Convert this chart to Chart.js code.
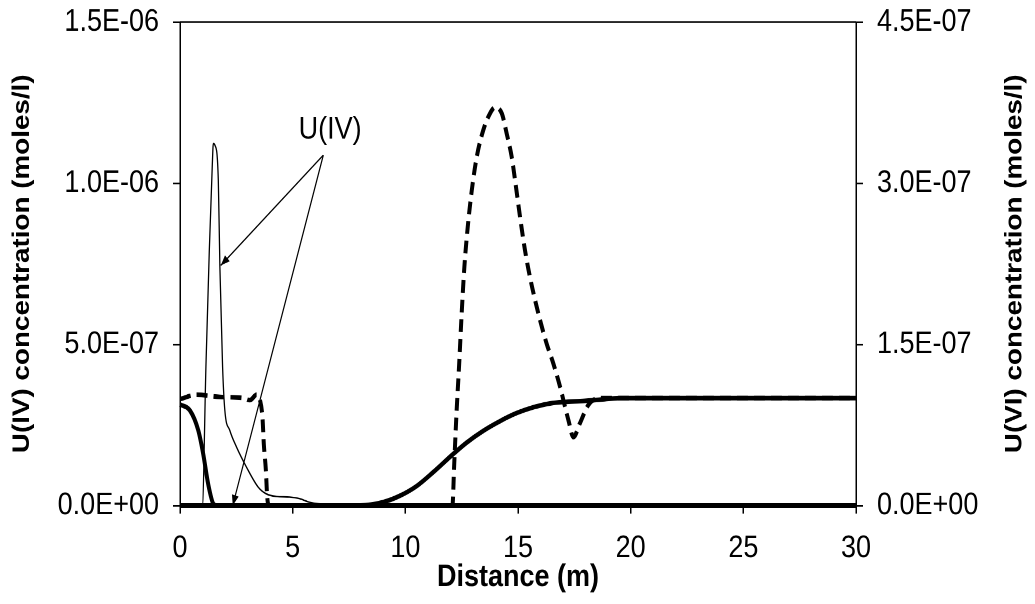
<!DOCTYPE html>
<html>
<head>
<meta charset="utf-8">
<script src="https://cdn.jsdelivr.net/npm/chart.js@4.4.0/dist/chart.umd.min.js"></script>
<style>
  html { overflow: hidden; }
  body { margin: 0; padding: 0; background: #fff; height: 604px; }
  #wrap { width: 1035px; height: 521px; transform: scaleY(1.1593); transform-origin: 0 0; }
</style>
</head>
<body>
<div id="wrap"><canvas id="myChart" width="1035" height="521"></canvas></div>
<script>
// axis ticks
const xTicks = [0, 5, 10, 15, 20, 25, 30];
const leftTicks = [0, 5e-7, 1e-6, 1.5e-6];
const leftTickLabels = ['0.0E+00', '5.0E-07', '1.0E-06', '1.5E-06'];
const rightTicks = [0, 1.5e-7, 3e-7, 4.5e-7];
const rightTickLabels = ['0.0E+00', '1.5E-07', '3.0E-07', '4.5E-07'];

// U(IV), thin line (left axis)
const distU4a = [0, 0.99, 1.15, 1.30, 1.43, 1.48, 1.55, 1.70, 1.77, 1.89, 1.99, 2.21, 2.51, 2.95, 3.47, 3.83, 4.28, 4.87, 5.31, 5.75, 6.64, 7.8, 9, 30];
const concU4a = [0, 0, 0.43e-6, 0.79e-6, 1.05e-6, 1.123e-6, 1.118e-6, 1.01e-6, 0.74e-6, 0.43e-6, 0.295e-6, 0.233e-6, 0.181e-6, 0.119e-6, 0.057e-6, 0.036e-6, 0.028e-6, 0.026e-6, 0.021e-6, 0.010e-6, 0.003e-6, 0.002e-6, 0, 0];

// U(IV), thick line lying on zero (left axis)
const distU4b = [0, 30];
const concU4b = [0, 0];

// U(VI), thick solid (right axis)
const distU6a = [0, 0.44, 0.81, 1.03, 1.25, 1.48, 1.62, 8.0, 9.0, 9.76, 10.5, 11.24, 12.13, 12.72, 13.46, 14.2, 14.94, 15.53, 16.42, 17.16, 18.05, 18.64, 19.5, 30];
const concU6a = [9.4e-8, 8.85e-8, 7.0e-8, 4.8e-8, 2.0e-8, 1.5e-9, 0, 0, 3e-9, 9e-9, 1.8e-8, 3.1e-8, 4.8e-8, 5.85e-8, 6.95e-8, 7.85e-8, 8.6e-8, 9.05e-8, 9.5e-8, 9.65e-8, 9.75e-8, 9.85e-8, 1.0e-7, 1.0e-7];

// U(VI), dashed (right axis)
const distU6b = [0, 0.74, 1.77, 2.8, 3.1, 3.4, 3.55, 3.66, 3.72, 3.81, 3.87, 3.95, 12.09, 12.17, 12.27, 12.39, 12.5, 12.62, 12.77, 12.95, 13.17, 13.46, 13.76, 13.98, 14.28, 14.5, 14.72, 14.91, 15.09, 15.31, 15.53, 15.76, 15.98, 16.27, 16.57, 16.87, 17.09, 17.24, 17.46, 17.74, 18.11, 18.48, 18.93, 30];
const concU6b = [9.9e-8, 1.03e-7, 1.01e-7, 1.0e-7, 9.8e-8, 1.03e-7, 9.8e-8, 8.2e-8, 5.7e-8, 3.3e-8, 8e-9, 0, 0, 3.89e-8, 8.54e-8, 1.32e-7, 1.786e-7, 2.22e-7, 2.593e-7, 2.935e-7, 3.245e-7, 3.494e-7, 3.65e-7, 3.705e-7, 3.65e-7, 3.46e-7, 3.245e-7, 2.966e-7, 2.686e-7, 2.376e-7, 2.127e-7, 1.91e-7, 1.724e-7, 1.507e-7, 1.32e-7, 1.102e-7, 9.16e-8, 7.92e-8, 6.36e-8, 7.61e-8, 9.32e-8, 9.94e-8, 1.0e-7, 1.0e-7];

// annotation anchors, in data units of x / left axis
const noteText = 'U(IV)';
const notePos = [6.66, 1.165e-6];
const arrowFrom = [6.36, 1.087e-6];
const arrowTips = [[1.81, 0.745e-6], [2.34, 0]];

const FONT = '"Liberation Sans", Arial, sans-serif';
const pts = (xs, ys) => xs.map((x, i) => ({ x: x, y: ys[i] }));

const frameAndNotes = {
  id: 'frameAndNotes',
  afterDatasetsDraw(chart) {
    const ctx = chart.ctx;
    const a = chart.chartArea;
    const sx = chart.scales.x, sy = chart.scales.y;
    ctx.save();
    // top border
    ctx.strokeStyle = '#000';
    ctx.lineWidth = 1.5;
    ctx.beginPath();
    ctx.moveTo(a.left, a.top);
    ctx.lineTo(a.right, a.top);
    ctx.stroke();

    // U(IV) label and arrows
    ctx.fillStyle = '#000';
    ctx.font = '27px ' + FONT;
    ctx.textAlign = 'center';
    ctx.textBaseline = 'middle';
    ctx.fillText(noteText, sx.getPixelForValue(notePos[0]), sy.getPixelForValue(notePos[1]));
    const fx = sx.getPixelForValue(arrowFrom[0]), fy = sy.getPixelForValue(arrowFrom[1]);
    ctx.lineWidth = 1.2;
    arrowTips.forEach(t => {
      const tx = sx.getPixelForValue(t[0]), ty = sy.getPixelForValue(t[1]);
      ctx.beginPath();
      ctx.moveTo(fx, fy);
      ctx.lineTo(tx, ty);
      ctx.stroke();
      const ang = Math.atan2(ty - fy, tx - fx);
      const L = 9, W = 3.5;
      ctx.beginPath();
      ctx.moveTo(tx, ty);
      ctx.lineTo(tx - L * Math.cos(ang) + W * Math.sin(ang), ty - L * Math.sin(ang) - W * Math.cos(ang));
      ctx.lineTo(tx - L * Math.cos(ang) - W * Math.sin(ang), ty - L * Math.sin(ang) + W * Math.cos(ang));
      ctx.closePath();
      ctx.fill();
    });

    // right axis title, reading upwards like the left one
    ctx.font = 'bold 24px ' + FONT;
    ctx.translate(1015, (a.top + a.bottom) / 2);
    ctx.rotate(-Math.PI / 2);
    ctx.fillText('U(VI) concentration (moles/l)', 0, 0);
    ctx.restore();
  }
};

const tickFont = { family: FONT, size: 27 };
const axisBits = {
  grid: { drawOnChartArea: false, drawTicks: true, tickLength: 7, color: '#000', lineWidth: 1.5 },
  border: { color: '#000', width: 1.5 }
};

new Chart(document.getElementById('myChart'), {
  type: 'line',
  data: {
    datasets: [
      {
        label: 'U(IV) a',
        data: pts(distU4a, concU4a),
        yAxisID: 'y',
        borderColor: '#000',
        borderWidth: 1.3,
        pointRadius: 0,
        cubicInterpolationMode: 'monotone',
        clip: 8
      },
      {
        label: 'U(IV) b',
        data: pts(distU4b, concU4b),
        yAxisID: 'y',
        borderColor: '#000',
        borderWidth: 4,
        pointRadius: 0,
        clip: 8
      },
      {
        label: 'U(VI) a',
        data: pts(distU6a, concU6a),
        yAxisID: 'y2',
        borderColor: '#000',
        borderWidth: 4,
        pointRadius: 0,
        cubicInterpolationMode: 'monotone',
        clip: 8
      },
      {
        label: 'U(VI) b',
        data: pts(distU6b, concU6b),
        yAxisID: 'y2',
        borderColor: '#000',
        borderWidth: 4,
        borderDash: [11, 6],
        pointRadius: 0,
        cubicInterpolationMode: 'monotone',
        clip: 8
      }
    ]
  },
  options: {
    responsive: false,
    animation: false,
    devicePixelRatio: 2,
    layout: { padding: { top: 19, left: 0, right: 0, bottom: 0 } },
    plugins: { legend: { display: false }, tooltip: { enabled: false } },
    scales: {
      x: {
        type: 'linear',
        min: 0,
        max: 30,
        afterBuildTicks: s => { s.ticks = xTicks.map(v => ({ value: v })); },
        afterFit: s => { s.height = 85; s.paddingLeft = 0; s.paddingRight = 0; },
        ticks: { font: tickFont, color: '#000', padding: 14, maxRotation: 0, callback: v => String(v) },
        title: { display: true, text: 'Distance (m)', color: '#000', font: { family: FONT, size: 27, weight: 'bold' }, padding: { top: 0, bottom: 7 } },
        ...axisBits
      },
      y: {
        position: 'left',
        min: 0,
        max: 1.5e-6,
        afterBuildTicks: s => { s.ticks = leftTicks.map(v => ({ value: v })); },
        afterFit: s => { s.width = 180; s.paddingTop = 0; s.paddingBottom = 0; },
        ticks: { font: tickFont, color: '#000', padding: 14, callback: (v, i) => leftTickLabels[i] },
        title: { display: true, text: 'U(IV) concentration (moles/l)', color: '#000', font: { family: FONT, size: 24, weight: 'bold' }, padding: { top: 8, bottom: 0 } },
        ...axisBits
      },
      y2: {
        position: 'right',
        min: 0,
        max: 4.5e-7,
        afterBuildTicks: s => { s.ticks = rightTicks.map(v => ({ value: v })); },
        afterFit: s => { s.width = 179; s.paddingTop = 0; s.paddingBottom = 0; },
        ticks: { font: tickFont, color: '#000', padding: 14, callback: (v, i) => rightTickLabels[i] },
        ...axisBits
      }
    }
  },
  plugins: [frameAndNotes]
});
</script>
</body>
</html>
